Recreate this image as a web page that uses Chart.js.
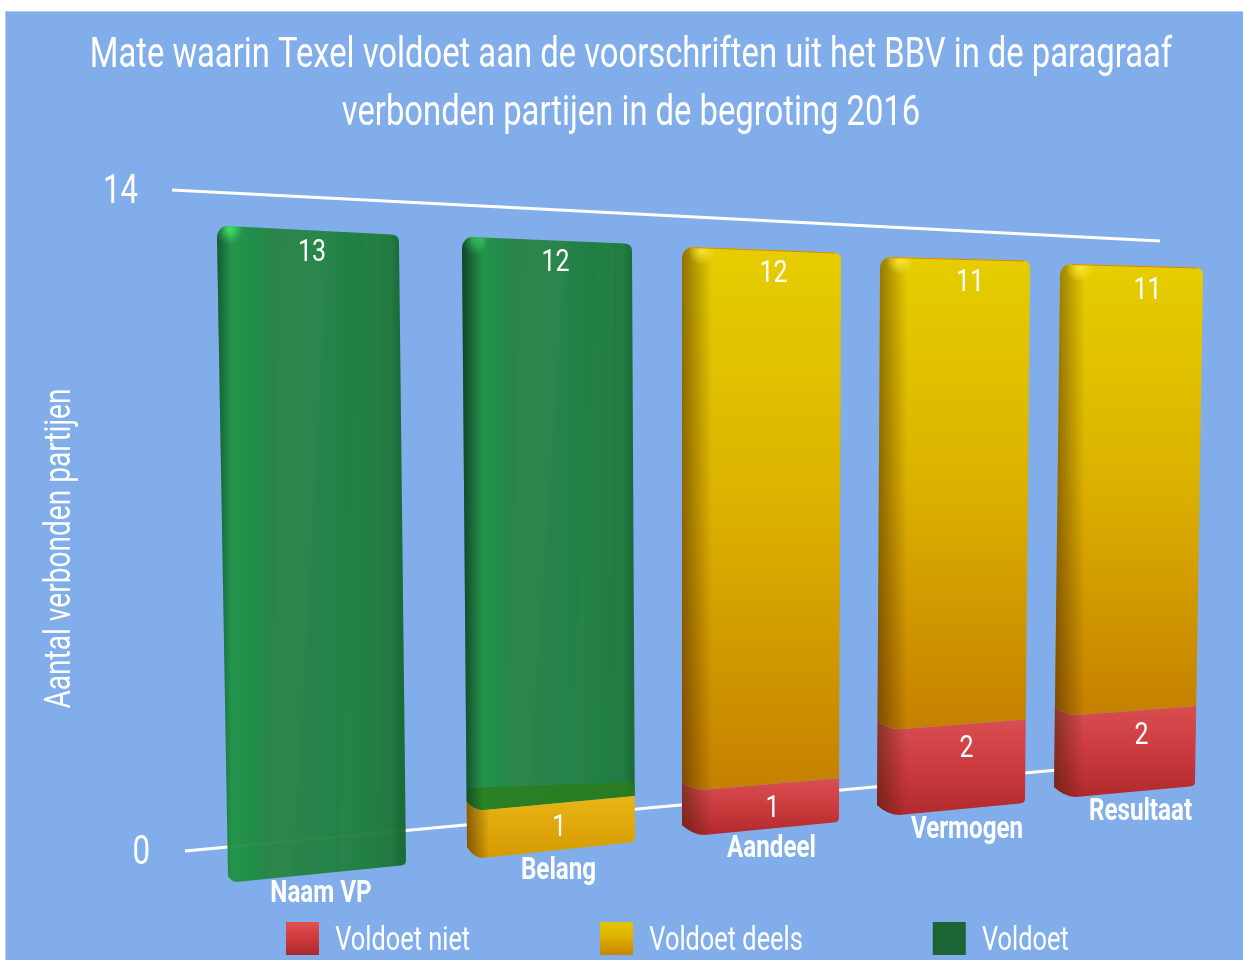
<!DOCTYPE html>
<html><head><meta charset="utf-8">
<style>html,body{margin:0;padding:0;background:#fff;overflow:hidden}canvas{display:block}</style>
<script src="https://cdn.jsdelivr.net/npm/chart.js@4"></script>
</head><body>
<div style="width:1243px;height:960px"><canvas id="c" width="1243" height="960"></canvas></div>
<script>
const categories = ['Naam VP','Belang','Aandeel','Vermogen','Resultaat'];
const voldoetNiet = [0,0,1,2,2];
const voldoetDeels = [0,1,12,11,11];
const voldoet = [13,12,0,0,0];
const titleLines = ['Mate waarin Texel voldoet aan de voorschriften uit het BBV in de paragraaf','verbonden partijen in de begroting 2016'];
const yAxisTitle = 'Aantal verbonden partijen';
const yTicks = [0,14];

const FONT = "Roboto,sans-serif";
// the reference face is condensed: narrow all canvas text horizontally
const NARROW = 0.78, TEXT_DROP = 3;
(function(){
 const P=CanvasRenderingContext2D.prototype,ft=P.fillText,mt=P.measureText;
 P.fillText=function(t,x,y,m){this.save();this.scale(NARROW,1);ft.call(this,t,x/NARROW,y+TEXT_DROP);this.restore();};
 P.measureText=function(t){const r=mt.call(this,t);return {width:r.width*NARROW,actualBoundingBoxAscent:r.actualBoundingBoxAscent,actualBoundingBoxDescent:r.actualBoundingBoxDescent,actualBoundingBoxLeft:r.actualBoundingBoxLeft*NARROW,actualBoundingBoxRight:r.actualBoundingBoxRight*NARROW};};
})();
// perspective frame of each column: the y-scale value is mapped onto it
const frames = [
 {lxT:217,lxB:228,rxT:399,rxB:406,fT:226,rT:235,fB:882,rB:865,s:8, d:6, shade:.30,lab:[0,0]},
 {lxT:462,lxB:467,rxT:632,rxB:635,fT:237,rT:244,fB:858,rB:842,s:15,d:11,shade:.55,lab:[1,0]},
 {lxT:682,lxB:682,rxT:841,rxB:839,fT:247,rT:253,fB:835,rB:822,s:22,d:10,shade:.50,lab:[1,2]},
 {lxT:880,lxB:877,rxT:1030,rxB:1025,fT:257,rT:261,fB:815,rB:803,s:22,d:10,shade:.50,lab:[4,2]},
 {lxT:1060,lxB:1054,rxT:1203,rxB:1195,fT:264,rT:268,fB:797,rB:786,s:22,d:10,shade:.50,lab:[5,3]}
];
const FULL = 13;
const lerp=(a,b,t)=>a+(b-a)*t;
function pts(g,v){const t=v/FULL;const lx=lerp(g.lxB,g.lxT,t),rx=lerp(g.rxB,g.rxT,t);
 return {lx,rx,fx:lx+g.s,fy:lerp(g.fB,g.fT,t),ry:lerp(g.rB,g.rT,t),dip:g.d*(v===0?1:.75)};}
function path(ctx,g,v0,v1,isTop){
 const a=pts(g,v0),b=pts(g,v1);
 ctx.beginPath();
 ctx.moveTo(a.lx,a.fy-a.dip);
 ctx.quadraticCurveTo(a.lx+g.s*.45,a.fy-a.dip*.05,a.fx,a.fy);
 if(v0===0){ctx.lineTo(a.rx-5,a.ry+.5);ctx.quadraticCurveTo(a.rx,a.ry,a.rx,a.ry-4);}
 else ctx.lineTo(a.rx,a.ry);
 if(isTop){
  ctx.lineTo(b.rx,b.ry+7);ctx.quadraticCurveTo(b.rx,b.ry,b.rx-7,b.ry-.5);
  ctx.lineTo(b.lx+10,b.fy);ctx.quadraticCurveTo(b.lx+1,b.fy+1,b.lx,b.fy+11);
 }else{
  ctx.lineTo(b.rx,b.ry);ctx.lineTo(b.fx,b.fy);
  ctx.quadraticCurveTo(b.lx+g.s*.45,b.fy-b.dip*.05,b.lx,b.fy-b.dip);
 }
 ctx.closePath();
}
function vGrad(ctx,y0,y1,stops){const gr=ctx.createLinearGradient(0,y0,0,y1);stops.forEach((c,i)=>gr.addColorStop(i/(stops.length-1),c));return gr;}
function paint(ctx,chart,el,dsIndex,i){
 const y=chart.scales.y,g=frames[i];
 const v0=Math.round(y.getValueForPixel(el.base)),v1=Math.round(y.getValueForPixel(el.y));
 if(v1<=v0)return;
 const a=pts(g,v0),b=pts(g,v1),isTop=v1===FULL;
 const sx=Math.min(a.lx,b.lx);
 ctx.save();
 path(ctx,g,v0,v1,isTop);
 if(dsIndex===2){
  ctx.globalAlpha=.96;
  const gr=ctx.createLinearGradient(b.lx,0,b.rx,0);
  gr.addColorStop(0,'#1b8540');gr.addColorStop(.09,'#209446');gr.addColorStop(.22,'#1f8a43');
  gr.addColorStop(.3,'#258241');gr.addColorStop(.62,'#228142');gr.addColorStop(.8,'#1a7c39');
  gr.addColorStop(.95,'#20793b');gr.addColorStop(1,'#166a32');
  ctx.fillStyle=gr;ctx.fill();ctx.clip();ctx.globalAlpha=1;
  ctx.fillStyle='rgba(255,255,255,.02)';
  const w=b.rx-b.lx;
  ctx.beginPath();ctx.moveTo(a.lx+w*.22,a.fy+20);ctx.lineTo(a.lx+w*.35,a.fy+20);ctx.lineTo(b.lx+w*.62,b.fy-5);ctx.lineTo(b.lx+w*.35,b.fy-5);ctx.fill();
  ctx.beginPath();ctx.moveTo(a.lx+w*.6,a.fy+20);ctx.lineTo(a.lx+w*.82,a.fy+20);ctx.lineTo(b.lx+w*.9,b.fy-5);ctx.lineTo(b.lx+w*.8,b.fy-5);ctx.fill();
  if(v0>0){ // lower end of the translucent column shows over the gold block
   ctx.fillStyle='rgba(42,125,28,.8)';
   ctx.beginPath();ctx.moveTo(a.lx,a.fy-a.dip-14);ctx.lineTo(a.rx,a.ry-14);ctx.lineTo(a.rx,a.ry+2);ctx.lineTo(a.fx,a.fy+2);ctx.lineTo(a.lx,a.fy-a.dip+2);ctx.fill();
  }
  const rad=ctx.createRadialGradient(b.lx+11,b.fy+3,1,b.lx+11,b.fy+3,15);
  rad.addColorStop(0,'rgba(70,240,110,.9)');rad.addColorStop(1,'rgba(70,240,110,0)');
  ctx.fillStyle=rad;ctx.fillRect(b.lx,b.fy-2,60,40);
  const sh=ctx.createLinearGradient(sx,0,sx+g.s+6,0);
  sh.addColorStop(0,'rgba(10,40,25,'+(g.shade+.15)+')');sh.addColorStop(1,'rgba(10,40,25,0)');
  ctx.fillStyle=sh;ctx.fillRect(sx-2,b.fy-20,Math.abs(a.lx-b.lx)+g.s+20,a.fy-b.fy+30);
 }else{
  let fill;
  if(dsIndex===1) fill=(v1-v0)<2?vGrad(ctx,b.fy-14,a.fy,['#e8b516','#d69a02']):vGrad(ctx,b.fy,a.fy,['#e5ce00','#dbb000','#c58000']);
  else fill=vGrad(ctx,b.fy-12,a.fy,['#d94f52','#cb3b3e','#b12a2d']);
  ctx.fillStyle=fill;ctx.fill();ctx.clip();
  const sh=ctx.createLinearGradient(sx,0,sx+g.s+8,0);
  sh.addColorStop(0,'rgba(60,25,0,'+g.shade+')');sh.addColorStop(1,'rgba(60,25,0,0)');
  ctx.fillStyle=sh;ctx.fillRect(sx-2,b.fy-20,Math.abs(a.lx-b.lx)+g.s+14,a.fy-b.fy+30);
  if(isTop&&dsIndex===1){
   const rad=ctx.createRadialGradient(b.lx+20,b.fy+4,1,b.lx+20,b.fy+4,14);
   rad.addColorStop(0,'rgba(255,236,60,.8)');rad.addColorStop(1,'rgba(255,236,60,0)');
   ctx.fillStyle=rad;ctx.fillRect(b.lx,b.fy-2,50,24);
   ctx.strokeStyle='#d9820a';ctx.lineWidth=2;
   ctx.beginPath();ctx.moveTo(b.lx+12,b.fy);ctx.lineTo(b.rx-6,b.ry-.5);ctx.stroke();
  }
 }
 ctx.restore();
}
const LEGEND_GAP=130;
const AXT={dx:-3,dy:28};
const perspective={
 id:'perspective',
 beforeLayout(chart){
  const l=chart.legend;
  if(l&&!l.$fit){const f=l.fit;l.fit=function(){f.call(this);this.height=45;};l.$fit=true;}
 },
 afterLayout(chart){ const l=chart.legend; l.left=286-LEGEND_GAP; l.right=1243; l.top=922-LEGEND_GAP; l.bottom=960; },
 beforeDraw(chart){
  const c=chart.ctx;
  c.save();c.fillStyle='#81aeea';c.fillRect(5,11,1238,949);
  c.fillStyle='#b4d3e4';c.fillRect(5,11,1238,1);c.fillRect(5,11,1,949);c.restore();
  // axis labels follow the perspective frame
  const y=chart.scales.y,x=chart.scales.x;
  y.getLabelItems().forEach((it,k)=>{it.options.translation[0]=(y.ticks[k].value===0)?150:138;it.options.textAlign='right';it.options.textBaseline='middle';it.textOffset=0;});
  x._computeLabelArea=()=>null;
  x.getLabelItems().forEach((it,k)=>{const g=frames[k],p=pts(g,0);
   it.options.translation[0]=(p.fx+p.rx)/2+(k>2?5:0);it.options.translation[1]=(p.fy+p.ry)/2+18;
   it.options.textAlign='center';it.options.textBaseline='middle';it.textOffset=0;});
  if(!y.$moved){const o=y.drawTitle.bind(y);y.drawTitle=function(){const ct=y.ctx;ct.save();ct.translate(AXT.dx,AXT.dy);o();ct.restore();};y.$moved=true;}
 },
 beforeDatasetsDraw(chart){
  const c=chart.ctx,y=chart.scales.y;
  c.save();c.strokeStyle='#ffffff';c.lineWidth=3;
  c.beginPath();c.moveTo(172,y.getPixelForValue(14));c.lineTo(1160,241);c.stroke();
  c.beginPath();c.moveTo(185,y.getPixelForValue(0));c.lineTo(1100,766);c.stroke();
  c.restore();
  chart.data.datasets.forEach((ds,di)=>{
   chart.getDatasetMeta(di).data.forEach((el,i)=>{el.draw=function(ctx){paint(ctx,chart,el,di,i);};});
  });
 },
 afterDatasetsDraw(chart){
  const c=chart.ctx,y=chart.scales.y;
  c.save();c.fillStyle='#fff';c.font="32px "+FONT;c.textAlign='center';c.textBaseline='middle';
  chart.data.datasets.forEach((ds,di)=>{
   chart.getDatasetMeta(di).data.forEach((el,i)=>{
    if(!ds.data[i])return;
    const v=Math.round(y.getValueForPixel(el.y)),g=frames[i],p=pts(g,v);
    c.fillText(String(ds.data[i]),(p.fx+p.rx)/2+g.lab[0],(p.fy+p.ry)/2+(v===FULL?19+g.lab[1]:22));
   });
  });
  c.restore();
 }
};
const ctx0=document.getElementById('c').getContext('2d');
const swatches=[
 vGrad(ctx0,922,955,['#e35052','#cc3a3c','#a92a2c']),
 vGrad(ctx0,922,955,['#e2c900','#dcae00','#c88400']),
 '#1c6434'];
new Chart(ctx0,{
 type:'bar',
 data:{labels:categories,datasets:[
  {label:'Voldoet niet',data:voldoetNiet,backgroundColor:'#cb3b3e',clip:false},
  {label:'Voldoet deels',data:voldoetDeels,backgroundColor:'#dcae00',clip:false},
  {label:'Voldoet',data:voldoet,backgroundColor:'#1c6434',clip:false}
 ]},
 plugins:[perspective],
 options:{
  responsive:false,animation:false,
  layout:{padding:{left:19,right:0,top:24,bottom:0}},
  plugins:{
   tooltip:{enabled:false},
   title:{display:true,text:titleLines,color:'#fff',font:{family:FONT,size:42,lineHeight:1.381,weight:'400'},padding:{top:0,bottom:50}},
   legend:{position:'bottom',align:'start',labels:{boxWidth:33,boxHeight:33,padding:LEGEND_GAP,color:'#fff',font:{family:FONT,size:32.5,weight:'400'},
    generateLabels(chart){return chart.data.datasets.map((d,i)=>({text:d.label,fillStyle:swatches[i],strokeStyle:'transparent',lineWidth:0,datasetIndex:i,fontColor:'#fff',hidden:false}));}}}
  },
  scales:{
   x:{stacked:true,grid:{display:false},border:{display:false},
      afterFit(s){s.height=64;},
      ticks:{color:'#fff',autoSkip:false,maxRotation:0,font:{family:FONT,size:31,weight:'bold'}}},
   y:{stacked:true,min:0,max:14,grid:{display:false},border:{display:false},
      afterFit(s){s.width=140;},
      afterBuildTicks(s){s.ticks=yTicks.map(v=>({value:v}));},
      title:{display:true,text:yAxisTitle,color:'#fff',font:{family:FONT,size:36,weight:'400'},padding:{top:20,bottom:0}},
      ticks:{color:'#fff',font:{family:FONT,size:40,weight:'400'}}}
  }
 }
});
</script>
</body></html>
